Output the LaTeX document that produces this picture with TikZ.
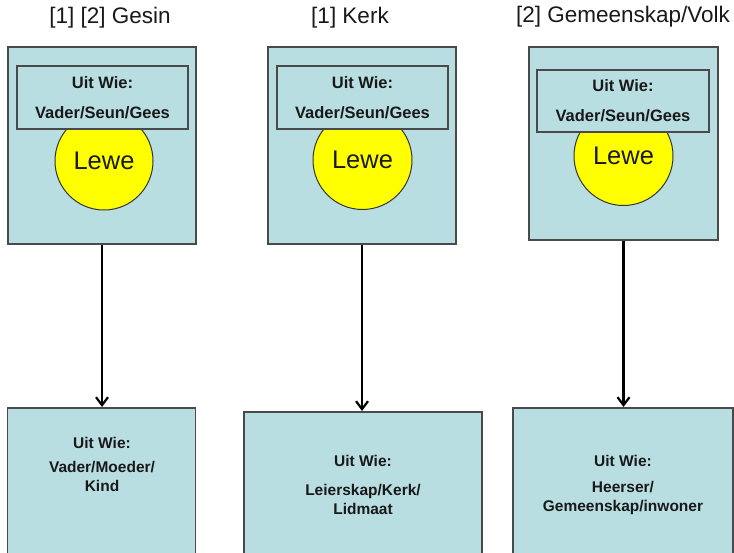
\documentclass[tikz,border=0pt]{standalone}
\usepackage{fontspec}
\setmainfont{Liberation Sans}
\usetikzlibrary{arrows.meta}
\definecolor{boxfill}{HTML}{B9DEE2}
\definecolor{boxline}{HTML}{4A4A4A}
\definecolor{lewe}{HTML}{FFFF00}
\tikzset{
  outerbox/.style={draw=boxline, line width=1.6pt, fill=boxfill, inner sep=0pt, rectangle},
  innerbox/.style={draw=boxline, line width=1.5pt, fill=boxfill, inner sep=0pt, rectangle, align=center,
    font=\fontsize{16.5}{19}\selectfont\bfseries, text=black!90},
  lewecircle/.style={circle, draw=black!80, line width=1pt, fill=lewe, inner sep=0pt,
    minimum size=98pt, font=\fontsize{25.5}{28}\selectfont, text=black!90},
  titletext/.style={font=\fontsize{22.5}{26}\selectfont, text=black!90, inner sep=0pt},
  bottext/.style={align=center, font=\fontsize{15.5}{19}\selectfont\bfseries, text=black!90, inner sep=0pt},
  arr/.style={line width=2.2pt, black, -{Straight Barb[length=8pt,width=12pt,line width=2.2pt]}}
}
\begin{document}
\begin{tikzpicture}[x=1pt,y=-1pt]
\useasboundingbox (0,0) rectangle (734,553);
% titles
\node[titletext] (t1) at (110,18) {[1] [2] Gesin};
\node[titletext] (t2) at (350,18) {[1] Kerk};
\node[titletext] (t3) at (623,17) {[2] Gemeenskap/Volk};
% top boxes
\node[outerbox, minimum width=188.5pt, minimum height=197pt] (top1) at (102,145.5) {};
\node[outerbox, minimum width=188pt, minimum height=197pt] (top2) at (362,145.5) {};
\node[outerbox, minimum width=189pt, minimum height=193pt] (top3) at (623.5,143.5) {};
% circles
\node[lewecircle] (c1) at (104,161) {Lewe};
\node[lewecircle, minimum size=99pt] (c2) at (362.5,160) {Lewe};
\node[lewecircle, minimum size=99pt] (c3) at (623.5,156) {Lewe};
% inner boxes
\node[innerbox, minimum width=171pt, minimum height=63pt] (i1) at (102.5,97.5) {Uit Wie:\\[11pt]Vader/Seun/Gees};
\node[innerbox, minimum width=171pt, minimum height=63pt] (i2) at (362.5,97.5) {Uit Wie:\\[11pt]Vader/Seun/Gees};
\node[innerbox, minimum width=172pt, minimum height=62pt] (i3) at (623,101) {Uit Wie:\\[11pt]Vader/Seun/Gees};
% bottom boxes
\node[outerbox, anchor=north, minimum width=188pt, minimum height=170pt] (b1) at (101.5,407) {};
\node[outerbox, anchor=north, minimum width=238pt, minimum height=170pt] (b2) at (363,411) {};
\node[outerbox, anchor=north, minimum width=220pt, minimum height=170pt] (b3) at (623,407) {};
% bottom texts
\node[bottext] (bt1) at (102,464.5) {Uit Wie:\\[5pt]Vader/Moeder/\\Kind};
\node[bottext] (bt2) at (363,485) {Uit Wie:\\[10pt]Leierskap/Kerk/\\Lidmaat};
\node[bottext] (bt3) at (623,485) {Uit Wie:\\[7pt]Heerser/\\Gemeenskap/inwoner};
% arrows
\draw[arr] (top1.south) -- (top1.south |- b1.north);
\draw[arr] (top2.south) -- (top2.south |- b2.north);
\draw[arr] (top3.south) -- (top3.south |- b3.north);
\end{tikzpicture}
\end{document}
